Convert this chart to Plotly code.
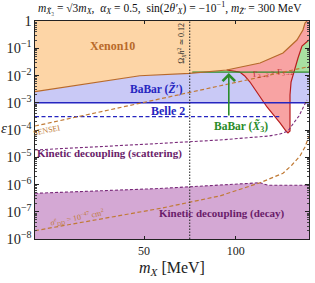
import plotly.graph_objects as go
import math

# ---------------- data (m_X in MeV, epsilon) ----------------
m_min, m_max = 21.9, 174.1

xenon_m   = [21.9, 48.4, 70.6, 93.4, 120.2, 143.0, 158.9, 166.3, 168.9, 171.5]
xenon_eps = [2.55e-3, 9.8e-3, 1.2e-2, 1.59e-2, 2.88e-2, 6.7e-2, 0.20, 0.468, 0.845, 1.0]

babar_m   = [21.9, 174.1]
babar_eps = [1e-3, 1e-3]

belle2_m   = [21.9, 139.0]
belle2_eps = [3.08e-4, 3.08e-4]

sensei_m   = [21.9, 33.2, 76.2, 174.1]
sensei_eps = [1.40e-4, 3.84e-4, 2.88e-3, 2.14e-2]

babarx3_m   = [72.0, 174.1]
babarx3_eps = [1.34e-2, 1.34e-2]

# lower / right boundary of the Gamma_{2->2} > Gamma_{3->2} region
red_m   = [174.1, 174.1, 165.1, 160.2, 154.2, 152.0, 150.8, 150.8, 148.5, 146.3, 139.8, 126.7, 111.4, 107.1, 103.1, 97.8, 93.4]
red_eps = [1.0, 0.201, 0.121, 0.0439, 0.01135, 0.00577, 1.92e-3, 9.19e-5, 7.76e-5, 9.19e-5, 1.81e-4, 6.98e-4, 5.77e-3, 9.6e-3, 0.0134, 0.01463, 0.0159]

scatter_m   = [21.9, 33.2, 52.2, 88.6, 117.5, 128.6, 139.8, 148.5, 154.2, 161.4, 166.3, 171.5]
scatter_eps = [1.85e-5, 2.32e-5, 3.06e-5, 4.30e-5, 5.31e-5, 6.02e-5, 7.13e-5, 9.19e-5, 1.66e-4, 3.27e-4, 6.42e-4, 1.26e-3]

decay_m   = [21.9, 56.3, 120.2, 127.7, 174.1]
decay_eps = [4.75e-7, 7.13e-7, 1.16e-6, 9.35e-7, 9.35e-7]

sigma_m   = [21.9, 35.8, 56.3, 88.6, 120.2, 143.0, 153.0, 162.6, 168.9, 174.1]
sigma_eps = [2.02e-8, 5.42e-8, 1.32e-7, 3.79e-7, 1.16e-6, 2.58e-6, 5.2e-6, 1.11e-5, 2.38e-5, 6.02e-5]

omega_m = 70.6
eps_min, eps_max = 1e-8, 1.0

x_ticks = [50, 100]

# ---------------- colours ----------------
C_XEN_FILL = "#FDD5A6"
C_XEN_LINE = "#B8692A"
C_BAB_FILL = "#C9C9F6"
C_BAB_LINE = "#2525C0"
C_RED_FILL = "#F8A3A3"
C_RED_LINE = "#B81E1E"
C_GRN_FILL = "#A9DFA1"
C_GRN_LINE = "#2A8C2A"
C_PUR_FILL = "#D4A8D4"
C_PUR_LINE = "#7A2A7A"
C_PUR_TEXT = "#6A1C6A"
C_ORA_DASH = "#C07A35"

SERIF = "Liberation Serif, DejaVu Serif, serif"

fig = go.Figure()

def poly(xs, ys, fill):
    fig.add_trace(go.Scatter(x=xs, y=ys, mode="lines", fill="toself", fillcolor=fill,
                             line=dict(width=0, color=fill), hoverinfo="skip", showlegend=False))

def line(xs, ys, color, width=1.2, dash="solid"):
    fig.add_trace(go.Scatter(x=xs, y=ys, mode="lines", line=dict(color=color, width=width, dash=dash),
                             hoverinfo="skip", showlegend=False))

# Xenon10 region
poly(xenon_m + [m_min], xenon_eps + [eps_max], C_XEN_FILL)
# BaBar (Z') region
poly(xenon_m + [m_max, m_max, m_min], xenon_eps + [eps_max, babar_eps[-1], babar_eps[0]], C_BAB_FILL)
# Kinetic decoupling (decay) region
poly(decay_m + [m_max, m_min], decay_eps + [eps_min, eps_min], C_PUR_FILL)
# BaBar (X3) region
xen_r_m = [m for m in xenon_m if m >= 93.0]
xen_r_e = [e for m, e in zip(xenon_m, xenon_eps) if m >= 93.0]
poly([babarx3_m[0] + 10.2, m_max, m_max] + xen_r_m[::-1],
     [babarx3_eps[0], babarx3_eps[1], eps_max] + xen_r_e[::-1], C_GRN_FILL)
# Gamma region
fig.add_trace(go.Scatter(x=xen_r_m + red_m, y=xen_r_e + red_eps, mode="lines", fill="toself",
                         fillcolor=C_RED_FILL, line=dict(width=0), hoverinfo="skip", showlegend=False))
line(red_m[1:], red_eps[1:], C_RED_LINE, 1.2)

# lines
line(babar_m, babar_eps, C_BAB_LINE, 1.3)
line(babarx3_m, babarx3_eps, C_GRN_LINE, 1.3)
line(xenon_m, xenon_eps, C_XEN_LINE, 1.2)
line(belle2_m, belle2_eps, C_BAB_LINE, 1.2, "4px,2.5px")
line(sensei_m, sensei_eps, C_ORA_DASH, 1.2, "4px,2.5px")
line(scatter_m, scatter_eps, C_PUR_LINE, 1.1, "3px,2px")
line(decay_m, decay_eps, C_PUR_LINE, 1.1, "3px,2px")
line(sigma_m, sigma_eps, C_ORA_DASH, 1.2, "4px,2.5px")
line([omega_m, omega_m], [eps_min, eps_max], "#333333", 1.1, "1.5px,1.5px")

L = math.log10

def label(m, e, text, color, size=11, angle=0, bold=True):
    fig.add_annotation(x=L(m), y=L(e), xref="x", yref="y", text=("<b>%s</b>" % text) if bold else text,
                       showarrow=False, textangle=angle, xanchor="center", yanchor="middle",
                       font=dict(family=SERIF, size=size, color=color))

label(39.5, 0.121, "Xenon10", C_XEN_LINE, 12)
label(55.1, 3.2e-3, "BaBar (<i>Z̃′</i>)", C_BAB_LINE, 11.5)
label(59.8, 4.98e-4, "Belle 2", C_BAB_LINE, 12)
label(103.9, 1.40e-4, "BaBar (<i>X̃</i><sub>3</sub>)", C_GRN_LINE, 11.5)
label(23.9, 1.0e-4, "SENSEI", C_ORA_DASH, 8, -12, bold=False)
label(38.6, 1.43e-5, "Kinetic decoupling (scattering)", C_PUR_TEXT, 11)
label(90.0, 9.0e-8, "Kinetic decoupling (decay)", C_PUR_TEXT, 11)
label(30.1, 5.9e-8, "<i>σ</i><sup><i>e</i></sup><sub>DD</sub> = 10<sup>−47</sup> cm<sup>2</sup>", C_ORA_DASH, 8, -11, bold=False)
label(66.5, 0.156, "Ω<sub><i>X</i></sub><i>h</i><sup>2</sup> ≃ 0.12", "#222222", 8, -90, bold=False)
label(132.2, 0.0124, "Γ<sub>2→2</sub> > Γ<sub>3→2</sub>", C_RED_LINE, 8, -5, bold=False)

# green arrow
fig.add_annotation(x=L(94.9), y=L(1.24e-2), ax=L(94.9), ay=L(3.0e-4), xref="x", yref="y",
                   axref="x", ayref="y", showarrow=True, arrowhead=4, arrowsize=1.5,
                   arrowwidth=1.6, arrowcolor=C_GRN_LINE, text="")

# title & axis titles
fig.add_annotation(x=0.493, y=1.06, xref="paper", yref="paper", showarrow=False,
                   xanchor="center", yanchor="middle",
                   text="<i>m</i><sub><i>X̃</i>₃</sub> = √3<i>m<sub>X</sub></i>,  <i>α<sub>X</sub></i> = 0.5,  sin(2<i>θ′<sub>X</sub></i>) = −10<sup>−1</sup>, <i>m<sub>Z̃′</sub></i> = 300 MeV",
                   font=dict(family=SERIF, size=11.5, color="#111111"))
fig.add_annotation(x=-0.112, y=0.51, xref="paper", yref="paper", showarrow=False,
                   xanchor="center", yanchor="middle",
                   text="<i>ε</i>", font=dict(family=SERIF, size=15, color="#222222"))
fig.add_annotation(x=0.50, y=-0.135, xref="paper", yref="paper", showarrow=False,
                   xanchor="center", yanchor="middle",
                   text="<i>m<sub>X</sub></i> [MeV]", font=dict(family=SERIF, size=16, color="#222222"))

fig.update_xaxes(type="log", range=[L(m_min), L(m_max)], tickvals=x_ticks, ticktext=[str(t) for t in x_ticks],
                 ticks="inside", ticklen=3, tickcolor="#222", mirror="ticks", showline=True,
                 linecolor="#222", linewidth=1.2, showgrid=False, zeroline=False,
                 tickfont=dict(family=SERIF, size=12, color="#222"))
fig.update_yaxes(type="log", range=[L(eps_min), L(eps_max)], dtick=1, exponentformat="power",
                 ticks="inside", ticklen=4, tickcolor="#222", mirror="ticks", showline=True,
                 linecolor="#222", linewidth=1.2, showgrid=False, zeroline=False,
                 minor=dict(ticks="inside", ticklen=2, tickcolor="#444", showgrid=False),
                 tickfont=dict(family=SERIF, size=11.5, color="#222"))

fig.update_layout(width=315, height=283, margin=dict(l=35, r=6, t=21, b=44),
                  plot_bgcolor="white", paper_bgcolor="white", showlegend=False)

fig.write_html("out.html", config={"displayModeBar": False},
               post_script="document.body.style.margin='0px';")
